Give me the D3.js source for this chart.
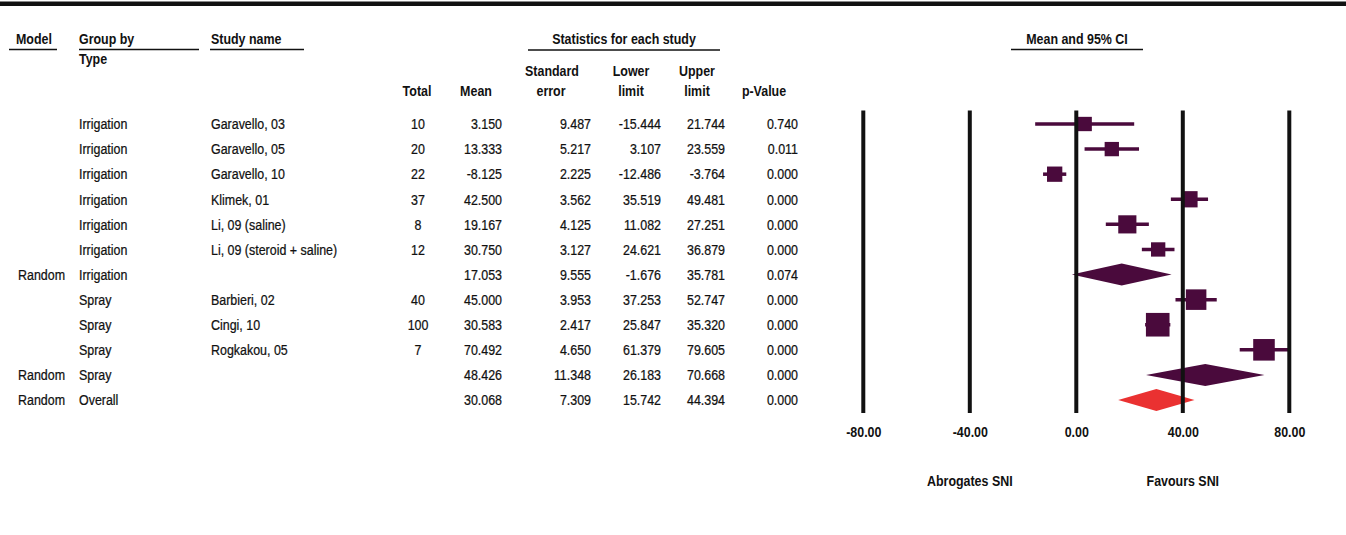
<!DOCTYPE html>
<html>
<head>
<meta charset="utf-8">
<script src="https://cdn.jsdelivr.net/npm/d3@7"></script>
<style>
  html, body { margin: 0; padding: 0; background: #fff; }
  svg { display: block; }
  text { font-family: "Liberation Sans", Arial, sans-serif; fill: #111; }
  .hdr { font-weight: bold; font-size: 15px; }
  .cell { font-size: 15px; stroke: #111; stroke-width: 0.25px; }
</style>
</head>
<body>
<svg id="chart" width="1346" height="535"></svg>
<script>
// ---------- DATA ----------
const models  = ["", "", "", "", "", "", "Random", "", "", "", "Random", "Random"];
const groups  = ["Irrigation", "Irrigation", "Irrigation", "Irrigation", "Irrigation", "Irrigation", "Irrigation", "Spray", "Spray", "Spray", "Spray", "Overall"];
const studies = ["Garavello, 03", "Garavello, 05", "Garavello, 10", "Klimek, 01", "Li, 09 (saline)", "Li, 09 (steroid + saline)", "", "Barbieri, 02", "Cingi, 10", "Rogkakou, 05", "", ""];
const totals  = [10, 20, 22, 37, 8, 12, null, 40, 100, 7, null, null];
const means   = [3.150, 13.333, -8.125, 42.500, 19.167, 30.750, 17.053, 45.000, 30.583, 70.492, 48.426, 30.068];
const stdErrs = [9.487, 5.217, 2.225, 3.562, 4.125, 3.127, 9.555, 3.953, 2.417, 4.650, 11.348, 7.309];
const lowers  = [-15.444, 3.107, -12.486, 35.519, 11.082, 24.621, -1.676, 37.253, 25.847, 61.379, 26.183, 15.742];
const uppers  = [21.744, 23.559, -3.764, 49.481, 27.251, 36.879, 35.781, 52.747, 35.320, 79.605, 70.668, 44.394];
const pValues = [0.740, 0.011, 0.000, 0.000, 0.000, 0.000, 0.074, 0.000, 0.000, 0.000, 0.000, 0.000];
const rowKinds = ["study", "study", "study", "study", "study", "study", "subtotal", "study", "study", "study", "subtotal", "overall"];
// relative weights within each subgroup (%)
const weights = [14.2, 14.2, 16.2, 18.3, 22.8, 14.2, null, 29.2, 38.6, 32.2, null, null];
const xTicks  = [-80, -40, 0, 40, 80];
const favourLabels = [{ at: -40, text: "Abrogates SNI" }, { at: 40, text: "Favours SNI" }];

// ---------- SETUP ----------
const svg = d3.select("#chart");
const rows = d3.range(studies.length);
const y = d3.scalePoint().domain(rows).range([124, 400]);
const x = d3.scaleLinear().domain([-80, 80]).range([863.3, 1289.3]);
const boxSize = d3.scaleSqrt().domain([0, 100]).range([0, 38]);
const locale = d3.formatLocale({ decimal: ".", thousands: ",", grouping: [3], currency: ["", ""], minus: "-" });
const fmt3 = locale.format(".3f");
const fmt2 = locale.format(".2f");
const PURPLE = "#4a0a3c", RED = "#ea3131", INK = "#111";
const SX = 0.83; // narrow-font horizontal compression

function narrow(sel, xf, yf) {
  sel.attr("x", 0).attr("y", 0)
    .attr("transform", (d, i) => {
      const xx = typeof xf === "function" ? xf(d, i) : xf;
      const yy = typeof yf === "function" ? yf(d, i) : yf;
      return `translate(${xx},${yy}) scale(${SX},1)`;
    });
  return sel;
}

// top rule
svg.append("line").attr("x1", 0).attr("x2", 1346).attr("y1", 3.8).attr("y2", 3.8)
  .attr("stroke", INK).attr("stroke-width", 4.5);

// ---------- HEADERS ----------
const hdr = (t, xx, yy, anchor) => narrow(svg.append("text").attr("class", "hdr"), xx, yy)
  .attr("dy", "0.35em").attr("text-anchor", anchor || "start").text(t);
const rule = (x1, x2, yy) => svg.append("line").attr("x1", x1).attr("x2", x2)
  .attr("y1", yy).attr("y2", yy).attr("stroke", INK).attr("stroke-width", 1.6);

hdr("Model", 16, 39); rule(9, 57, 49.5);
hdr("Group by", 79, 39); rule(79, 199, 49.5);
hdr("Type", 79, 59);
hdr("Study name", 211, 39); rule(210, 304, 49.5);
hdr("Statistics for each study", 624, 39, "middle"); rule(528, 720, 50);
hdr("Mean and 95% CI", 1077, 39, "middle"); rule(1011, 1143, 49.5);
hdr("Total", 417, 91, "middle");
hdr("Mean", 476, 91, "middle");
hdr("Standard", 552, 71, "middle"); hdr("error", 551, 91, "middle");
hdr("Lower", 631, 71, "middle"); hdr("limit", 631, 91, "middle");
hdr("Upper", 697, 71, "middle"); hdr("limit", 697, 91, "middle");
hdr("p-Value", 764, 91, "middle");

// ---------- TABLE ----------
const cols = [
  { get: i => models[i], x: 18, anchor: "start" },
  { get: i => groups[i], x: 79, anchor: "start" },
  { get: i => studies[i], x: 211, anchor: "start" },
  { get: i => totals[i] == null ? "" : String(totals[i]), x: 418, anchor: "middle" },
  { get: i => fmt3(means[i]), x: 502, anchor: "end" },
  { get: i => fmt3(stdErrs[i]), x: 591, anchor: "end" },
  { get: i => fmt3(lowers[i]), x: 661, anchor: "end" },
  { get: i => fmt3(uppers[i]), x: 725, anchor: "end" },
  { get: i => fmt3(pValues[i]), x: 798, anchor: "end" }
];
cols.forEach(c => {
  const t = svg.append("g").selectAll("text").data(rows).join("text")
    .attr("class", "cell").attr("dy", "0.35em")
    .attr("text-anchor", c.anchor)
    .text(c.get);
  narrow(t, c.x, i => y(i));
});

// ---------- FOREST PLOT ----------
const plot = svg.append("g");
const studyRows = rows.filter(i => rowKinds[i] === "study");
const sumRows = rows.filter(i => rowKinds[i] !== "study");

// CI lines
plot.selectAll("line.ci").data(studyRows).join("line").attr("class", "ci")
  .attr("x1", i => x(lowers[i])).attr("x2", i => x(uppers[i]))
  .attr("y1", i => y(i)).attr("y2", i => y(i))
  .attr("stroke", PURPLE).attr("stroke-width", 3.5);

// boxes
plot.selectAll("rect.box").data(studyRows).join("rect").attr("class", "box")
  .attr("x", i => x(means[i]) - boxSize(weights[i]) / 2)
  .attr("y", i => y(i) - boxSize(weights[i]) / 2)
  .attr("width", i => boxSize(weights[i]))
  .attr("height", i => boxSize(weights[i]))
  .attr("fill", PURPLE);

// diamonds
const dh = 11;
plot.selectAll("path.diamond").data(sumRows).join("path").attr("class", "diamond")
  .attr("d", i => `M${x(lowers[i])},${y(i)}L${x(means[i])},${y(i) - dh}L${x(uppers[i])},${y(i)}L${x(means[i])},${y(i) + dh}Z`)
  .attr("fill", i => rowKinds[i] === "overall" ? RED : PURPLE);

// vertical reference lines
plot.selectAll("line.grid").data(xTicks).join("line").attr("class", "grid")
  .attr("x1", d => x(d)).attr("x2", d => x(d))
  .attr("y1", 110.5).attr("y2", 413)
  .attr("stroke", INK).attr("stroke-width", 4);

// axis labels
const axis = d3.axisBottom(x).tickValues(xTicks).tickFormat(fmt2).tickSize(0).tickPadding(0);
const axG = svg.append("g").attr("transform", "translate(0,426)").call(axis);
axG.select(".domain").remove();
axG.selectAll("text").attr("class", "hdr")
  .attr("font-family", null).attr("font-size", null).attr("fill", null)
  .attr("transform", `scale(${SX},1)`);
axG.attr("font-family", null).attr("font-size", null);

// favours labels
const fav = svg.append("g").selectAll("text").data(favourLabels).join("text")
  .attr("class", "hdr").attr("dy", "0.35em")
  .attr("text-anchor", "middle").text(d => d.text);
narrow(fav, d => x(d.at), 481);
</script>
</body>
</html>
